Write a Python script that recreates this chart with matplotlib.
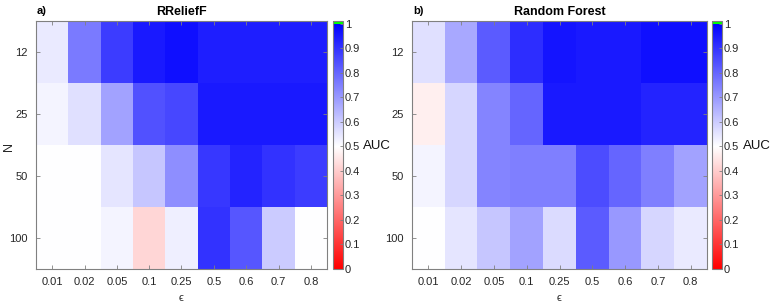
import numpy as np
import matplotlib
matplotlib.use("Agg")
import matplotlib.pyplot as plt
from matplotlib.colors import ListedColormap

plt.rcParams['font.family'] = ['Liberation Sans', 'DejaVu Sans']

eps_labels = ["0.01", "0.02", "0.05", "0.1", "0.25", "0.5", "0.6", "0.7", "0.8"]
n_labels = ["12", "25", "50", "100"]

auc_relieff = [
    [0.54, 0.76, 0.88, 0.95, 0.97, 0.94, 0.94, 0.94, 0.94],
    [0.52, 0.56, 0.68, 0.84, 0.86, 0.95, 0.95, 0.95, 0.95],
    [0.50, 0.50, 0.55, 0.61, 0.72, 0.89, 0.93, 0.90, 0.88],
    [0.50, 0.50, 0.52, 0.42, 0.53, 0.90, 0.83, 0.60, 0.50],
]
auc_rf = [
    [0.56, 0.67, 0.82, 0.91, 0.96, 0.95, 0.95, 0.97, 0.97],
    [0.47, 0.58, 0.74, 0.80, 0.95, 0.95, 0.95, 0.93, 0.93],
    [0.52, 0.58, 0.74, 0.75, 0.75, 0.85, 0.80, 0.75, 0.68],
    [0.50, 0.55, 0.61, 0.68, 0.57, 0.82, 0.70, 0.58, 0.54],
]
titles = ["RReliefF", "Random Forest"]
panel_tags = ["a)", "b)"]

# colormap: red -> white -> blue, green cap above 1
vmax = 1.012
N = 1012
vals = (np.arange(N) + 0.5) / N * vmax
cols = np.zeros((N, 4))
cols[:, 3] = 1
for i, v in enumerate(vals):
    if v > 1.0:
        cols[i, :3] = (0.0, 1.0, 0.0)
    elif v < 0.5:
        t = v / 0.5
        cols[i, :3] = (1.0, t, t)
    else:
        t = (1.0 - v) / 0.5
        cols[i, :3] = (t, t, 1.0)
cmap = ListedColormap(cols)

W, H = 772, 303
fig = plt.figure(figsize=(W / 100, H / 100), dpi=100)

def fx(px):
    return px / W

def fy(py):
    return 1 - py / H

ax_top, ax_bot = 21, 269
axes_px = [(36, 327, 333, 363), (412, 707, 712, 743)]
gray = "#808080"
tc = "#262626"

for k, data in enumerate([auc_relieff, auc_rf]):
    l, r, cl, auc_x = axes_px[k]
    ax = fig.add_axes([fx(l), fy(ax_bot), fx(r - l), (ax_bot - ax_top) / H])
    arr = np.array(data)
    im = ax.imshow(arr, cmap=cmap, vmin=0, vmax=vmax, aspect='auto',
                   interpolation='nearest')
    ax.set_xticks(range(len(eps_labels)))
    ax.set_xticklabels(eps_labels)
    ax.set_yticks(range(len(n_labels)))
    ax.set_yticklabels(n_labels)
    ax.tick_params(direction='in', length=3, width=0.6, color=gray,
                   labelsize=8, labelcolor=tc, top=True, right=True, pad=6)
    for s in ax.spines.values():
        s.set_color(gray)
        s.set_linewidth(0.8)
    ax.set_xlabel("ϵ", fontsize=8, color=tc, labelpad=4)
    if k == 0:
        fig.text(fx(9), fy(146), "N", fontsize=9, color=tc, rotation=90,
                 ha='center', va='center')
    ax.set_title(titles[k], fontsize=9, fontweight='bold', pad=4)
    fig.text(fx(l + 6), fy(11), panel_tags[k], fontsize=8, fontweight='bold',
             ha='center', va='center')

    cax = fig.add_axes([fx(cl), fy(ax_bot), fx(10), (ax_bot - ax_top) / H])
    cb = fig.colorbar(im, cax=cax, ticks=np.round(np.arange(0, 1.01, 0.1), 1))
    cb.ax.set_yticklabels(["0"] + ["%.1f" % t for t in np.arange(0.1, 0.95, 0.1)] + ["1"])
    cb.outline.set_edgecolor(gray)
    cb.outline.set_linewidth(0.8)
    cb.ax.tick_params(direction='in', length=2.5, width=0.6, color=gray,
                      labelsize=8, labelcolor=tc, pad=1.5)
    fig.text(fx(auc_x), fy(21 + (ax_bot - ax_top) * (1 - 0.5 / vmax)), "AUC",
             fontsize=9.5, ha='left', va='center', color='#111111')

fig.savefig("out.png", dpi=100)
